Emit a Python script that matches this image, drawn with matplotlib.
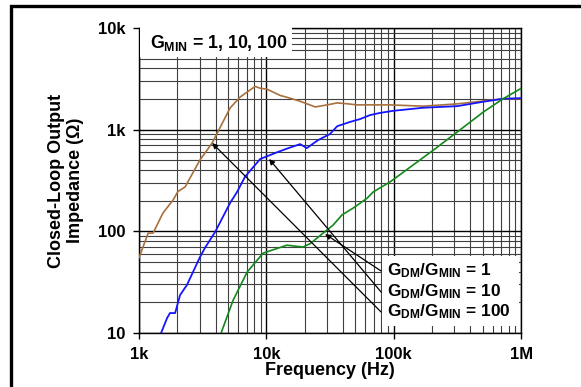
import numpy as np
import matplotlib
matplotlib.use("Agg")
import matplotlib.pyplot as plt
from matplotlib.patches import Rectangle
from matplotlib.lines import Line2D
from matplotlib.ticker import FixedLocator, FixedFormatter, NullFormatter

plt.rcParams['font.family'] = ['Liberation Sans', 'DejaVu Sans']
plt.rcParams['mathtext.fontset'] = 'custom'
plt.rcParams['mathtext.rm'] = 'Liberation Sans'
plt.rcParams['mathtext.bf'] = 'Liberation Sans:bold'
plt.rcParams['mathtext.it'] = 'Liberation Sans:italic'

# curve data (Hz, ohm)
f_g100 = [1000, 1180, 1290, 1540, 1850, 2020, 2300, 3010, 3750, 5190, 6220, 7060, 8160,
          8940, 10100, 12800, 15300, 18400, 24200, 30000, 36000, 44000, 51500, 93600,
          170000, 314000, 452000, 722000, 1000000]
z_g100 = [55, 96, 96, 151, 203, 246, 273, 503, 738, 1630, 2090, 2340, 2660,
          2550, 2500, 2170, 2040, 1900, 1670, 1750, 1830, 1790, 1750, 1750,
          1700, 1790, 1880, 2010, 2010]

f_g10 = [1490, 1660, 1750, 1920, 2100, 2380, 3010, 3290, 3960, 5190, 5890, 6790, 8940,
         12200, 14900, 18400, 20800, 25400, 31600, 36000, 45400, 54500, 65300, 78200,
         98900, 170000, 314000, 506000, 722000, 1000000]
z_g10 = [10, 14, 15.7, 15.7, 23.6, 29.7, 55.8, 68.5, 98.5, 190, 244, 343, 514,
         600, 658, 720, 658, 787, 905, 1080, 1190, 1270, 1390, 1460,
         1530, 1640, 1700, 1880, 2010, 2040]

f_g1 = [4410, 5480, 7060, 9430, 14500, 19400, 22200, 27900, 33400, 39300, 48000, 61900,
        69100, 93600, 205000, 314000, 506000, 722000, 1000000]
z_g1 = [10, 21, 39.7, 61, 73, 70, 76, 96, 115, 145, 169, 212,
        244, 306, 629, 944, 1490, 2010, 2540]

x_ticks = [1e3, 1e4, 1e5, 1e6]
x_labels = ['1k', '10k', '100k', '1M']
y_ticks = [10, 100, 1e3, 1e4]
y_labels = ['10', '100', '1k', '10k']

legend_labels = [r'$\mathbf{G_{DM}/G_{MIN}}$ = 1',
                 r'$\mathbf{G_{DM}/G_{MIN}}$ = 10',
                 r'$\mathbf{G_{DM}/G_{MIN}}$ = 100']
# arrow tips on each curve
tip_f = [28900, 10500, 3750]
tip_z = [94, 514, 738]

fig = plt.figure(figsize=(5.811, 3.871), dpi=100)
ax = fig.add_axes([139/581, 1-333/387, 382/581, 305/387])

# outer frame (only left and top edges show)
fx, fy = 11/581, 1 - 6/387
fig.add_artist(Line2D([fx, fx, 1.01], [-0.01, fy, fy], transform=fig.transFigure,
                      color='black', lw=2.4, solid_joinstyle='miter'))

ax.plot(f_g100, z_g100, color='#A8703C', lw=1.2, zorder=3)
ax.plot(f_g10, z_g10, color='#1515ff', lw=1.3, zorder=3)
ax.plot(f_g1, z_g1, color='#12881a', lw=1.2, zorder=3)

ax.set_xscale('log')
ax.set_yscale('log')
ax.set_xlim(1e3, 1e6)
ax.set_ylim(10, 1e4)

ax.xaxis.set_major_locator(FixedLocator(x_ticks))
ax.xaxis.set_major_formatter(FixedFormatter(x_labels))
ax.yaxis.set_major_locator(FixedLocator(y_ticks))
ax.yaxis.set_major_formatter(FixedFormatter(y_labels))
ax.xaxis.set_minor_formatter(NullFormatter())
ax.yaxis.set_minor_formatter(NullFormatter())

ax.grid(which='major', color='black', lw=1.0)
ax.grid(which='minor', color='0.25', lw=0.8)
ax.set_axisbelow(True)
ax.tick_params(which='major', direction='out', length=4, width=1, labelsize=12)
ax.tick_params(axis='x', which='major', pad=6)
ax.tick_params(axis='y', which='major', pad=6)
ax.tick_params(which='minor', length=0)
for lab in ax.get_xticklabels() + ax.get_yticklabels():
    lab.set_fontweight('bold')
for s in ax.spines.values():
    s.set_linewidth(1.0)

ax.set_xlabel('Frequency (Hz)', fontsize=13, fontweight='bold', labelpad=0)
ax.set_ylabel('Closed-Loop Output\nImpedance (\u03a9)', fontsize=13, fontweight='bold',
              labelpad=10, linespacing=1.15)

# white box behind the G_MIN label
ax.add_patch(Rectangle((0.003, 0.905), 0.397, 0.1, transform=ax.transAxes,
                       fc='white', ec='none', zorder=4, clip_on=False))
ax.text(0.028, 0.952, r'$\mathbf{G_{MIN}}$ = 1, 10, 100', transform=ax.transAxes,
        fontsize=12.8, fontweight='bold', va='center', ha='left', zorder=5)

# white box behind the ratio labels
ax.add_patch(Rectangle((243/382, (333-326)/305), (519-382)/382, 70/305, transform=ax.transAxes,
                       fc='white', ec='none', zorder=4))
label_y = [(333-271)/305, (333-292)/305, (333-312)/305]
for lab, yy, tf, tz in zip(legend_labels, label_y, tip_f, tip_z):
    ax.text(248/382, yy, lab, transform=ax.transAxes, fontsize=12.4, fontweight='bold',
            va='center', ha='left', zorder=5)
    ax.annotate('', xy=(tf, tz), xycoords='data', xytext=(242/382, yy),
                textcoords='axes fraction',
                arrowprops=dict(arrowstyle='-|>', color='black', lw=0.9,
                                mutation_scale=8, shrinkA=0, shrinkB=0), zorder=5)

fig.savefig('out.png', dpi=100)
